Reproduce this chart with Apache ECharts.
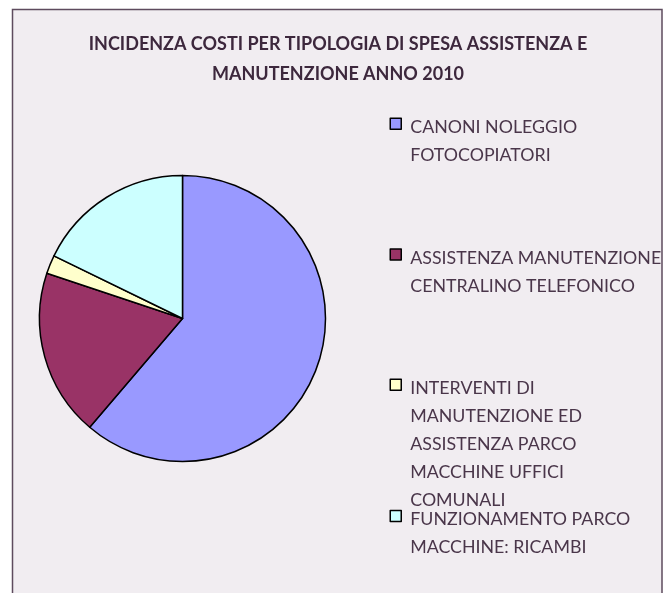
<!DOCTYPE html>
<html>
<head>
<meta charset="utf-8">
<script src="https://cdn.jsdelivr.net/npm/echarts@6/dist/echarts.min.js"></script>
<style>
  html, body { margin: 0; padding: 0; background: #ffffff; }
  #chart { width: 669px; height: 593px; }
</style>
</head>
<body>
<div id="chart"></div>
<script>
// ---- data ----
const categories = [
  'CANONI NOLEGGIO FOTOCOPIATORI',
  'ASSISTENZA MANUTENZIONE CENTRALINO TELEFONICO',
  'INTERVENTI DI MANUTENZIONE ED ASSISTENZA PARCO MACCHINE UFFICI COMUNALI',
  'FUNZIONAMENTO PARCO MACCHINE: RICAMBI'
];
const legendLines = [
  ['CANONI NOLEGGIO', 'FOTOCOPIATORI'],
  ['ASSISTENZA MANUTENZIONE', 'CENTRALINO TELEFONICO'],
  ['INTERVENTI DI', 'MANUTENZIONE ED', 'ASSISTENZA PARCO', 'MACCHINE UFFICI', 'COMUNALI'],
  ['FUNZIONAMENTO PARCO', 'MACCHINE: RICAMBI']
];
const values = [61.3, 18.9, 2.1, 17.8];
const colors = ['#9999FF', '#993366', '#FFFFCC', '#CCFFFF'];
const titleText = 'INCIDENZA COSTI PER TIPOLOGIA DI SPESA ASSISTENZA E\nMANUTENZIONE ANNO 2010';

// ---- layout ----
const FONT = 'Lato, "Open Sans", sans-serif';
const LH = 28;
const ICON = 11;
const SHIFT = 3.5; // first text line sits slightly below the icon centre
const iconCenters = [123.7, 254.5, 384.7, 516];

const legends = categories.map((name, i) => {
  const n = legendLines[i].length;
  const gapH = (n - 1) * LH + 2 * SHIFT;
  const H = gapH + n * LH;
  return {
    data: [name],
    orient: 'vertical',
    left: 389.5,
    top: iconCenters[i] - H / 2,
    padding: 0,
    icon: 'rect',
    itemWidth: ICON,
    itemHeight: ICON,
    itemGap: 0,
    selectedMode: false,
    itemStyle: { borderColor: '#000000', borderWidth: 1.5 },
    // an invisible spacer line above keeps the first real line level with the icon
    formatter: () => '{gap| }\n' + legendLines[i].join('\n'),
    textStyle: {
      fontFamily: FONT,
      fontSize: 17.8,
      color: '#4a364a',
      lineHeight: LH,
      padding: [0, 0, 0, 4],
      rich: {
        gap: { lineHeight: gapH, height: gapH, fontSize: 1 }
      }
    }
  };
});

const chart = echarts.init(document.getElementById('chart'), null, { renderer: 'canvas' });
chart.setOption({
  backgroundColor: '#ffffff',
  animation: false,
  graphic: [{
    type: 'rect',
    z: 0,
    shape: { x: 12.5, y: 9.5, width: 649.5, height: 620 },
    style: { fill: '#F1EDF1', stroke: '#5E4B5E', lineWidth: 1.5 }
  }],
  title: {
    text: titleText,
    left: 338,
    textAlign: 'center',
    top: 29,
    padding: 0,
    textStyle: {
      fontFamily: FONT,
      fontWeight: 'bold',
      fontSize: 18,
      color: '#3d283d',
      lineHeight: 30
    }
  },
  legend: legends,
  series: [{
    type: 'pie',
    center: [182.5, 318.5],
    radius: 143,
    startAngle: 90,
    clockwise: true,
    label: { show: false },
    labelLine: { show: false },
    emphasis: { disabled: true },
    itemStyle: { borderColor: '#000000', borderWidth: 1.5 },
    data: categories.map((name, i) => ({
      name: name,
      value: values[i],
      itemStyle: { color: colors[i] }
    }))
  }]
});
</script>
</body>
</html>
